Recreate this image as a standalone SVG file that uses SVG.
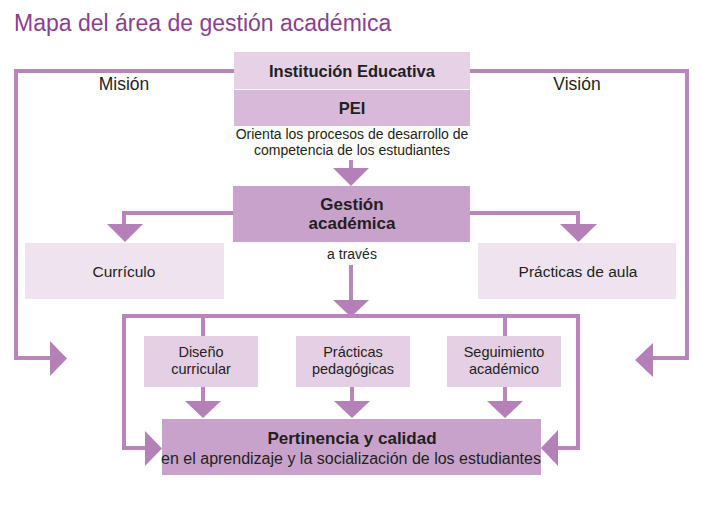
<svg xmlns="http://www.w3.org/2000/svg" width="701" height="506" viewBox="0 0 701 506">
<style>
text{font-family:"Liberation Sans",Arial,sans-serif;fill:#231f20;text-anchor:middle}
.t{font-size:23px;fill:#8b3f8f;text-anchor:start}
.b{font-weight:bold;font-size:16.5px}
.n{font-size:14px}
.s{font-size:14.5px}
.m{font-size:15.5px}
.ln{fill:none;stroke:#b985bb;stroke-width:4}
.ar{fill:#b57fb7}
.c1{fill:#e6d1e7}
.c2{fill:#d8b9d9}
.c3{fill:#c9a2cb}
.c4{fill:#eee3ef}
.c5{fill:#e4cfe5}
</style>
<rect width="701" height="506" fill="#fff"/>
<text class="t" x="14" y="31">Mapa del área de gestión académica</text>
<g id="connectors">
<polyline class="ln" points="234,71 16,71 16,358 52,358"/>
<polygon class="ar" points="50,341 67,358.5 50,376"/>
<polyline class="ln" points="470,71 687,71 687,358 651,358"/>
<polygon class="ar" points="653,343 635,360 653,377"/>
<line class="ln" x1="351" y1="160" x2="351" y2="170"/>
<polygon class="ar" points="333,168 369,168 351,186"/>
<polyline class="ln" points="234,213 124,213 124,226"/>
<polygon class="ar" points="107,224 143,224 125,242"/>
<polyline class="ln" points="470,213 578,213 578,226"/>
<polygon class="ar" points="560,224 597,224 578.5,242"/>
<line class="ln" x1="351" y1="265" x2="351" y2="302"/>
<polygon class="ar" points="333,300 369,300 351,317"/>
<polyline class="ln" points="147,448 124,448 124,316 578,316 578,448 556,448"/>
<polygon class="ar" points="145,431 162,448.5 145,466"/>
<polygon class="ar" points="558,430 541,448 558,466"/>
<line class="ln" x1="203" y1="316" x2="203" y2="336"/>
<line class="ln" x1="505" y1="316" x2="505" y2="336"/>
<line class="ln" x1="203" y1="387" x2="203" y2="403"/>
<polygon class="ar" points="185,401 221,401 203,418"/>
<line class="ln" x1="352" y1="387" x2="352" y2="403"/>
<polygon class="ar" points="334,401 370,401 352,418"/>
<line class="ln" x1="505" y1="387" x2="505" y2="403"/>
<polygon class="ar" points="487,401 523,401 505,418"/>
</g>
<g id="institucion">
<rect class="c1" x="234" y="52" width="236" height="37"/>
<text class="b" x="352" y="77">Institución Educativa</text>
</g>
<g id="pei">
<rect class="c2" x="234" y="90" width="236" height="36"/>
<text class="b" x="352" y="114">PEI</text>
</g>
<g id="orienta">
<text class="n" x="352" y="139">Orienta los procesos de desarrollo de</text>
<text class="n" x="352" y="155">competencia de los estudiantes</text>
</g>
<g id="mision"><text x="124" y="90" style="font-size:17.5px">Misión</text></g>
<g id="vision"><text x="577" y="90" style="font-size:17.5px">Visión</text></g>
<g id="gestion">
<rect class="c3" x="233" y="186" width="237" height="56"/>
<text class="b" x="352" y="210" style="font-size:17px">Gestión</text>
<text class="b" x="352" y="229" style="font-size:17px">académica</text>
</g>
<g id="atraves"><text class="n" x="352" y="259">a través</text></g>
<g id="curriculo">
<rect class="c4" x="25" y="243" width="199" height="56"/>
<text class="m" x="124" y="277">Currículo</text>
</g>
<g id="practicas-aula">
<rect class="c4" x="478" y="243" width="198" height="56"/>
<text class="m" x="578" y="277">Prácticas de aula</text>
</g>
<g id="diseno">
<rect class="c5" x="144" y="336" width="114" height="51"/>
<text class="s" x="201" y="357">Diseño</text>
<text class="s" x="201" y="374">curricular</text>
</g>
<g id="practicas-ped">
<rect class="c5" x="296" y="336" width="114" height="51"/>
<text class="s" x="353" y="357">Prácticas</text>
<text class="s" x="353" y="374">pedagógicas</text>
</g>
<g id="seguimiento">
<rect class="c5" x="447" y="336" width="114" height="51"/>
<text class="s" x="504" y="357">Seguimiento</text>
<text class="s" x="504" y="374">académico</text>
</g>
<g id="pertinencia">
<rect class="c3" x="162" y="419" width="379" height="56"/>
<text class="b" x="352" y="444" style="font-size:17px">Pertinencia y calidad</text>
<text x="351" y="464" style="font-size:16px">en el aprendizaje y la socialización de los estudiantes</text>
</g>
</svg>
